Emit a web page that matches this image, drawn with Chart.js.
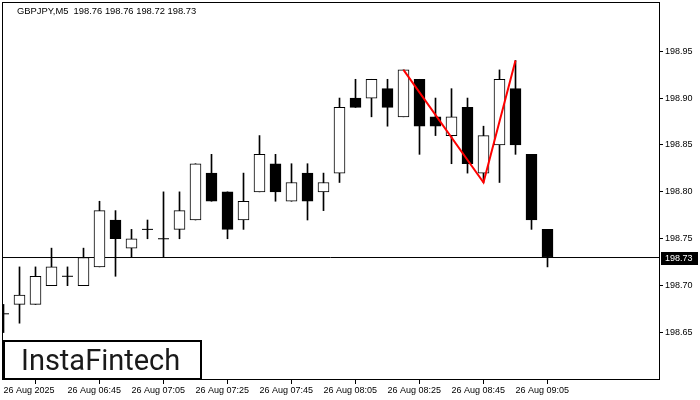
<!DOCTYPE html>
<html>
<head>
<meta charset="utf-8">
<script src="https://cdn.jsdelivr.net/npm/chart.js@4.4.0/dist/chart.umd.min.js"></script>
<style>
  html, body { margin: 0; padding: 0; background: #fff; }
  #wrap { width: 700px; height: 400px; }
</style>
</head>
<body>
<div id="wrap"><canvas id="candleChart" width="700" height="400"></canvas></div>
<script>
// GBPJPY M5, one candle every 5 minutes from 06:25
const symbol = 'GBPJPY,M5';
const times = ['06:25', '06:30', '06:35', '06:40', '06:45', '06:50', '06:55', '07:00', '07:05', '07:10',
               '07:15', '07:20', '07:25', '07:30', '07:35', '07:40', '07:45', '07:50', '07:55', '08:00',
               '08:05', '08:10', '08:15', '08:20', '08:25', '08:30', '08:35', '08:40', '08:45', '08:50',
               '08:55', '09:00', '09:05', '09:10', '09:15'];
const opens  = [198.67, 198.68, 198.68, 198.70, 198.71, 198.70, 198.72, 198.77, 198.74, 198.76,
                198.75, 198.76, 198.77, 198.82, 198.80, 198.77, 198.80, 198.83, 198.79, 198.82,
                198.80, 198.82, 198.90, 198.90, 198.91, 198.88, 198.92, 198.88, 198.86, 198.89,
                198.82, 198.85, 198.91, 198.84, 198.76];
const highs  = [198.68, 198.72, 198.72, 198.74, 198.72, 198.74, 198.79, 198.78, 198.76, 198.77,
                198.80, 198.80, 198.83, 198.84, 198.80, 198.82, 198.86, 198.84, 198.83, 198.83,
                198.82, 198.90, 198.92, 198.92, 198.92, 198.93, 198.92, 198.90, 198.91, 198.90,
                198.87, 198.93, 198.94, 198.84, 198.76];
const lows   = [198.65, 198.66, 198.68, 198.70, 198.70, 198.70, 198.72, 198.71, 198.73, 198.75,
                198.73, 198.75, 198.77, 198.79, 198.75, 198.76, 198.80, 198.79, 198.79, 198.77,
                198.78, 198.81, 198.89, 198.88, 198.87, 198.88, 198.84, 198.86, 198.83, 198.82,
                198.81, 198.81, 198.84, 198.76, 198.72];
const closes = [198.67, 198.69, 198.71, 198.72, 198.71, 198.73, 198.78, 198.75, 198.75, 198.76,
                198.75, 198.78, 198.83, 198.79, 198.76, 198.79, 198.84, 198.80, 198.81, 198.79,
                198.81, 198.89, 198.89, 198.92, 198.89, 198.93, 198.87, 198.87, 198.88, 198.83,
                198.86, 198.92, 198.85, 198.77, 198.73];

// red double-top pattern: candle index and price
const patternIdx = [25, 30, 32];
const patternPrices = [198.93, 198.81, 198.94];

// axis ticks
const xTickIdx = [0, 4, 8, 12, 16, 20, 24, 28, 32];
const xTickLabels = ['26 Aug 2025', '26 Aug 06:45', '26 Aug 07:05', '26 Aug 07:25', '26 Aug 07:45',
                     '26 Aug 08:05', '26 Aug 08:25', '26 Aug 08:45', '26 Aug 09:05'];
const yTicks = [198.65, 198.70, 198.75, 198.80, 198.85, 198.90, 198.95];

const last = closes.length - 1;
const axisFont = { family: 'Liberation Sans', size: 9 };

document.addEventListener('DOMContentLoaded', function () {
    const wicks = times.map((t, i) => ({ x: i, y: [lows[i], highs[i]] }));
    const bodies = times.map((t, i) => ({ x: i, y: opens[i] === closes[i] ? null : [opens[i], closes[i]] }));
    const dojis = times.map((t, i) => ({ x: i, y: closes[i] })).filter(p => opens[p.x] === closes[p.x]);
    const up = times.map((t, i) => closes[i] > opens[i]);

    // frame, header text, price tag and the logo box
    const decor = {
        id: 'decor',
        afterDraw(chart) {
            const c = chart.ctx;
            const a = chart.chartArea;
            const yScale = chart.scales.y;
            c.save();
            c.strokeStyle = '#000';
            c.lineWidth = 1;
            c.strokeRect(a.left + 0.5, a.top + 0.5, a.right - a.left, a.bottom - a.top);

            c.fillStyle = '#000';
            c.font = '9.4px "Liberation Sans"';
            c.textBaseline = 'middle';
            c.textAlign = 'left';
            c.fillText(symbol + '  ' + [opens[last], highs[last], lows[last], closes[last]].map(v => v.toFixed(2)).join(' '), 17, 11);

            const py = Math.round(yScale.getPixelForValue(closes[last]));
            c.fillStyle = '#000';
            c.fillRect(661, py - 6, 37, 13);
            c.fillStyle = '#fff';
            c.font = '9px "Liberation Sans"';
            c.fillText(closes[last].toFixed(2), 665, py + 0.5);

            c.fillStyle = '#fff';
            c.fillRect(3, 341, 198, 38);
            c.strokeStyle = '#000';
            c.lineWidth = 2;
            c.strokeRect(4, 341, 197, 38);
            c.fillStyle = '#1a1a1a';
            c.font = '29px Roboto';
            c.textBaseline = 'alphabetic';
            c.fillText('InstaFintech', 21, 370);
            c.restore();
        }
    };

    const ctx = document.getElementById('candleChart').getContext('2d');
    new Chart(ctx, {
        type: 'bar',
        data: {
            datasets: [
                {
                    // bid line at the last close
                    type: 'line',
                    data: [{ x: -1, y: closes[last] }, { x: 45, y: closes[last] }],
                    borderColor: '#000',
                    borderWidth: 1,
                    pointRadius: 0,
                    order: 5
                },
                {
                    data: wicks,
                    backgroundColor: '#000',
                    borderWidth: 0,
                    barThickness: 1,
                    grouped: false,
                    order: 4
                },
                {
                    data: bodies,
                    backgroundColor: up.map(u => u ? '#fff' : '#000'),
                    borderColor: '#000',
                    borderWidth: 1,
                    borderSkipped: false,
                    barThickness: 11,
                    grouped: false,
                    order: 3
                },
                {
                    type: 'line',
                    data: dojis,
                    showLine: false,
                    pointStyle: 'line',
                    pointRadius: 5.5,
                    borderColor: '#000',
                    borderWidth: 1,
                    order: 2
                },
                {
                    type: 'line',
                    data: patternIdx.map((x, i) => ({ x: x, y: patternPrices[i] })),
                    borderColor: '#ff0000',
                    borderWidth: 2,
                    pointRadius: 0,
                    tension: 0,
                    order: 1
                }
            ]
        },
        options: {
            responsive: false,
            animation: false,
            devicePixelRatio: 1,
            layout: { autoPadding: false, padding: { top: 2, left: 2, right: 0, bottom: 0 } },
            plugins: {
                legend: { display: false },
                tooltip: { enabled: false }
            },
            scales: {
                x: {
                    type: 'linear',
                    min: -0.09375,
                    max: 40.96875,
                    offset: false,
                    border: { display: false },
                    grid: { drawOnChartArea: false, drawTicks: true, tickLength: 5, tickColor: '#000' },
                    afterBuildTicks: s => { s.ticks = xTickIdx.map(v => ({ value: v })); },
                    afterFit: s => { s.height = 21; s.paddingLeft = 0; s.paddingRight = 0; },
                    ticks: {
                        align: 'start',
                        maxRotation: 0,
                        autoSkip: false,
                        padding: 1,
                        color: '#000',
                        font: axisFont,
                        callback: (v, i) => xTickLabels[i]
                    }
                },
                y: {
                    position: 'right',
                    min: 198.6005,
                    max: 199.0024,
                    border: { display: false },
                    grid: { drawOnChartArea: false, drawTicks: true, tickLength: 4, tickColor: '#000' },
                    afterBuildTicks: s => { s.ticks = yTicks.map(v => ({ value: v })); },
                    afterFit: s => { s.width = 41; s.paddingTop = 0; s.paddingBottom = 0; },
                    ticks: {
                        padding: 2,
                        color: '#000',
                        font: axisFont,
                        callback: v => v.toFixed(2)
                    }
                }
            }
        },
        plugins: [decor]
    });
});
</script>
</body>
</html>
